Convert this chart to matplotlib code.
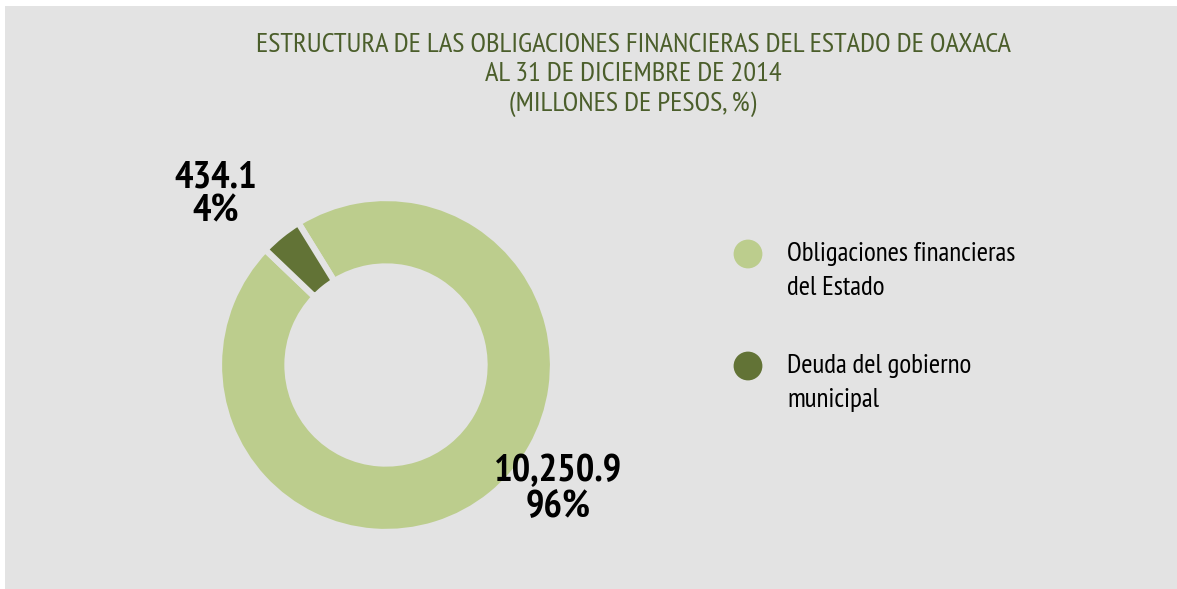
import matplotlib.pyplot as plt
from matplotlib.patches import Rectangle

# data
categories = ['Obligaciones financieras\ndel Estado', 'Deuda del gobierno\nmunicipal']
values = [10250.9, 434.1]
value_labels = ['10,250.9', '434.1']
pct_labels = ['96%', '4%']
title = ('ESTRUCTURA DE LAS OBLIGACIONES FINANCIERAS DEL ESTADO DE OAXACA\n'
         'AL 31 DE DICIEMBRE DE 2014\n(MILLONES DE PESOS, %)')

colors = ['#bccd8d', '#627336']
bg = '#e3e3e3'
W, H = 1177, 589

plt.rcParams['font.family'] = ['PT Sans Narrow', 'Roboto Condensed', 'DejaVu Sans']

fig = plt.figure(figsize=(W / 100, H / 100), dpi=100)
fig.patch.set_facecolor('white')
fig.add_artist(Rectangle((5 / W, 0), 1, 1 - 6 / H, transform=fig.transFigure,
                         facecolor=bg, edgecolor='none', zorder=0))

# donut
cx, cy, r = 386, 365, 167
ax = fig.add_axes([(cx - r) / W, (H - cy - r) / H, 2 * r / W, 2 * r / H])
ax.pie(values, colors=colors, startangle=136.3, radius=1,
       wedgeprops=dict(width=0.41, edgecolor=bg, linewidth=4.5))
ax.set_xlim(-1, 1)
ax.set_ylim(-1, 1)
ax.set_aspect('equal')
ax.axis('off')

# overlay axes in pixel units for texts and legend (on top of the donut)
ov = fig.add_axes([0, 0, 1, 1])
ov.set_xlim(0, W)
ov.set_ylim(H, 0)
ov.axis('off')
ov.patch.set_alpha(0)

ov.text(633, 75, title, ha='center', va='center', fontsize=20.4,
        color='#4b5e2b', linespacing=1.28)

# value labels
ov.text(216, 195, value_labels[1] + '\n' + pct_labels[1], ha='center', va='center',
        fontsize=28, fontweight='bold', linespacing=0.97)
ov.text(558, 489, value_labels[0] + '\n' + pct_labels[0], ha='center', va='center',
        fontsize=28, fontweight='bold', linespacing=0.97)

# legend
leg_y = [254, 366]
ov.scatter([748, 748], leg_y, s=430, c=colors, edgecolors='none')
for y, lab in zip(leg_y, categories):
    ov.text(787, y - 12, lab, ha='left', va='top', fontsize=19.5, linespacing=1.55)

fig.savefig('out.png', dpi=100, facecolor=fig.get_facecolor())
